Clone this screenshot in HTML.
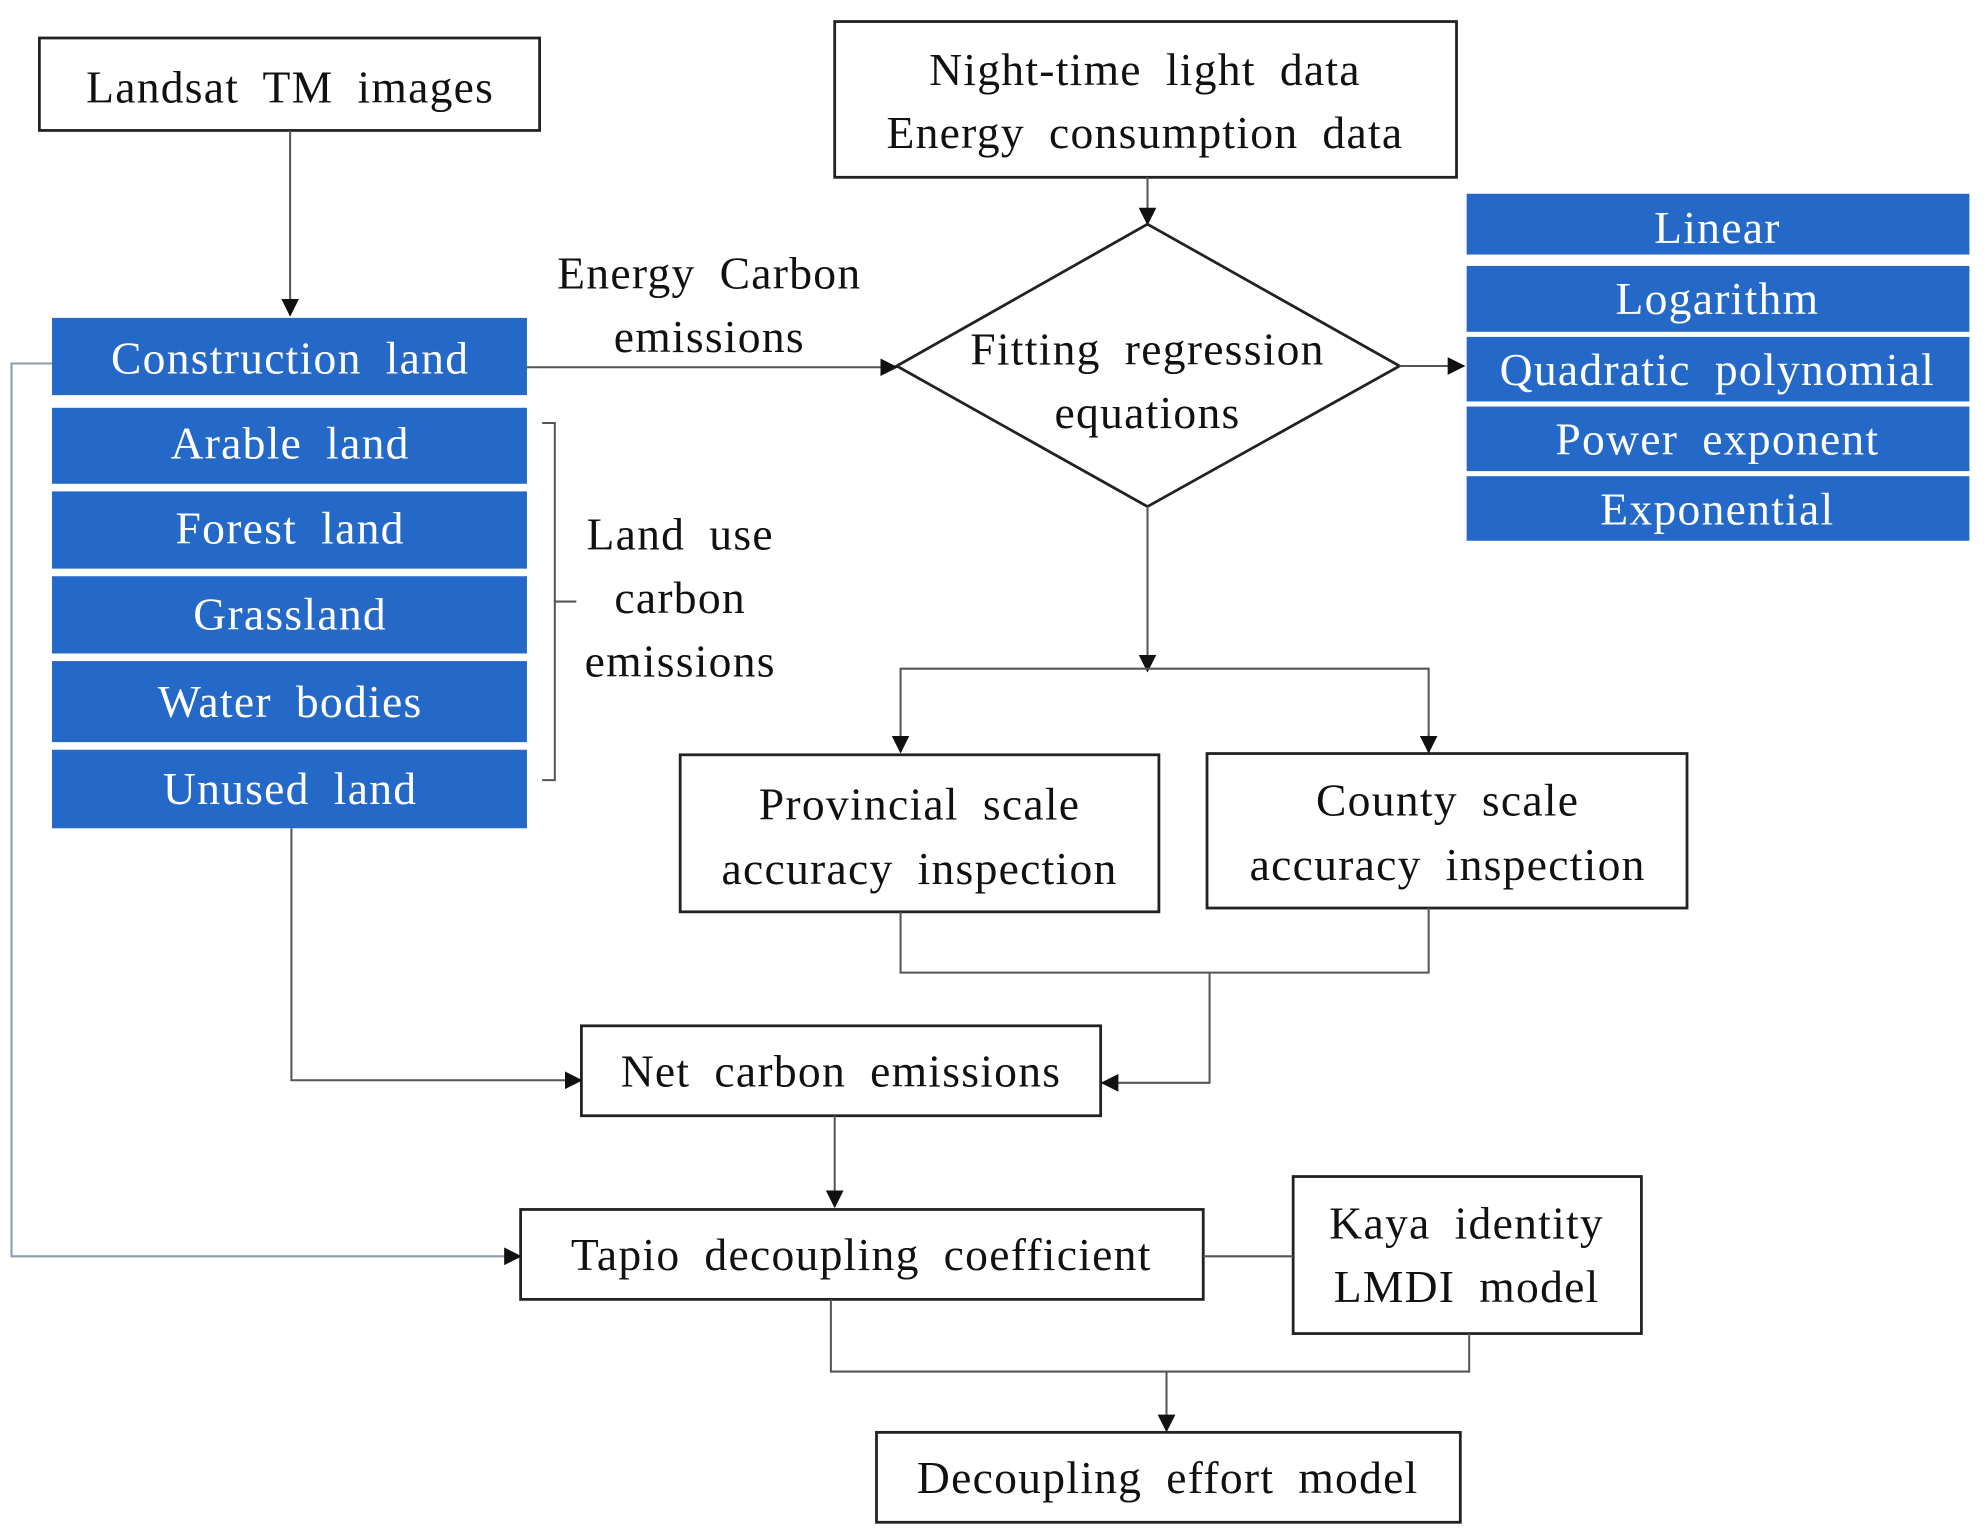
<!DOCTYPE html>
<html><head><meta charset="utf-8"><style>
html,body{margin:0;padding:0;background:#fff;}
svg{display:block;}
text{font-family:"Liberation Serif",serif;font-size:36px;fill:#111;text-anchor:middle;letter-spacing:1px;word-spacing:9px;}
.w{fill:#fff;}
</style></head><body>
<svg width="1986" height="1540" viewBox="0 0 1568 1216" xmlns="http://www.w3.org/2000/svg">
<defs>
<marker id="b" viewBox="0 0 14 14" markerWidth="14" markerHeight="14" refX="13" refY="7" orient="auto" markerUnits="userSpaceOnUse"><path d="M0,0 L14,7 L0,14 z" fill="#111"/></marker></defs>
<g fill="none" stroke="#222" stroke-width="2.2">
<rect x="31" y="30" width="395" height="73"/>
<rect x="659" y="17" width="491" height="123"/>
<polygon points="906,177 1105,289 906,400 708,289"/>
<rect x="537" y="596" width="378" height="124"/>
<rect x="953" y="595" width="379" height="122"/>
<rect x="459" y="810" width="410" height="71"/>
<rect x="411" y="955" width="539" height="71"/>
<rect x="1021" y="929" width="275" height="124"/>
<rect x="692" y="1131" width="461" height="71"/>
</g>
<g fill="none" stroke="#555" stroke-width="1.6">
<line x1="229" y1="103" x2="229" y2="249" marker-end="url(#b)"/>
<line x1="906" y1="140" x2="906" y2="177" marker-end="url(#b)"/>
<line x1="416" y1="290" x2="708" y2="290" marker-end="url(#b)"/>
<line x1="1105" y1="289" x2="1156" y2="289" marker-end="url(#b)"/>
<line x1="906" y1="400" x2="906" y2="530" marker-end="url(#b)"/>
<polyline points="711,593 711,528 1128,528 1128,593"/>
<line x1="711" y1="580" x2="711" y2="594" marker-end="url(#b)"/>
<line x1="1128" y1="580" x2="1128" y2="594" marker-end="url(#b)"/>
<polyline points="711,720 711,768 1128,768 1128,717"/>
<polyline points="955,768 955,855 870,855" marker-end="url(#b)"/>
<polyline points="230,654 230,853 459,853" marker-end="url(#b)"/>
<line x1="659" y1="881" x2="659" y2="953" marker-end="url(#b)"/>
<polyline points="41,287 9,287 9,992 411,992" stroke="#8a9bb0" marker-end="url(#b)"/>
<line x1="950" y1="992" x2="1021" y2="992"/>
<polyline points="656,1026 656,1083 1160,1083 1160,1053"/>
<line x1="921" y1="1083" x2="921" y2="1130" marker-end="url(#b)"/>
<polyline points="428,334 438,334 438,616 428,616"/>
<line x1="438" y1="475" x2="455" y2="475"/>
</g>
<g fill="#2468c8">
<rect x="41" y="251" width="375" height="61"/>
<rect x="41" y="322" width="375" height="60"/>
<rect x="41" y="388" width="375" height="61"/>
<rect x="41" y="455" width="375" height="61"/>
<rect x="41" y="522" width="375" height="64"/>
<rect x="41" y="592" width="375" height="62"/>
<rect x="1158" y="153" width="397" height="48"/>
<rect x="1158" y="210" width="397" height="52"/>
<rect x="1158" y="266" width="397" height="51"/>
<rect x="1158" y="321" width="397" height="51"/>
<rect x="1158" y="376" width="397" height="51"/>
</g>
<text x="229" y="81">Landsat TM images</text>
<text x="904" y="67">Night-time light data</text>
<text x="904" y="117">Energy consumption data</text>
<text class="w" x="229" y="295">Construction land</text>
<text class="w" x="229" y="362">Arable land</text>
<text class="w" x="229" y="429">Forest land</text>
<text class="w" x="229" y="497">Grassland</text>
<text class="w" x="229" y="566">Water bodies</text>
<text class="w" x="229" y="635">Unused land</text>
<text x="537" y="434">Land use</text>
<text x="537" y="484">carbon</text>
<text x="537" y="534">emissions</text>
<text x="560" y="228">Energy Carbon</text>
<text x="560" y="278">emissions</text>
<text x="906" y="288">Fitting regression</text>
<text x="906" y="338">equations</text>
<text class="w" x="1356" y="192">Linear</text>
<text class="w" x="1356" y="248">Logarithm</text>
<text class="w" x="1356" y="304">Quadratic polynomial</text>
<text class="w" x="1356" y="359">Power exponent</text>
<text class="w" x="1356" y="414">Exponential</text>
<text x="726" y="647">Provincial scale</text>
<text x="726" y="698">accuracy inspection</text>
<text x="1143" y="644">County scale</text>
<text x="1143" y="695">accuracy inspection</text>
<text x="664" y="858">Net carbon emissions</text>
<text x="680" y="1003">Tapio decoupling coefficient</text>
<text x="1158" y="978">Kaya identity</text>
<text x="1158" y="1028">LMDI model</text>
<text x="922" y="1179">Decoupling effort model</text>
</svg>
</body></html>
